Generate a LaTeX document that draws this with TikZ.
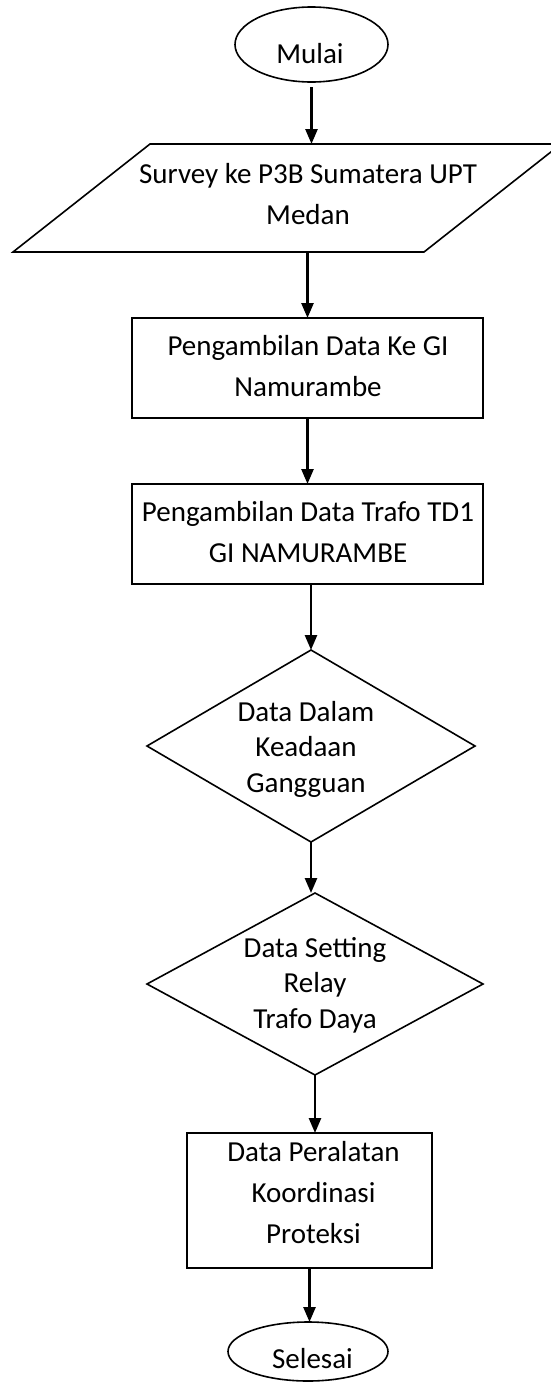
\documentclass[tikz,border=0pt]{standalone}
\usepackage{fontspec}
\setmainfont{Carlito}
\usetikzlibrary{shapes.geometric,arrows.meta}

\begin{document}
\begin{tikzpicture}[
  x=1pt, y=-1pt,
  shapeline/.style={draw=black, line width=1.6pt, inner sep=0pt, outer sep=0pt},
  terminal/.style={shapeline, ellipse},
  process/.style={shapeline, rectangle},
  decision/.style={shapeline, diamond},
  label/.style={font=\fontsize{29}{41}\selectfont, align=center, inner sep=0pt},
  tightlabel/.style={font=\fontsize{29}{35.5}\selectfont, align=center, inner sep=0pt},
  arr/.style={line width=2.6pt, -{Triangle[length=15pt, width=12pt]}}
]
% page frame
\path[use as bounding box] (0,0) rectangle (551,1382);
\clip (0,0) rectangle (551,1382);
\fill[white] (0,0) rectangle (551,1382);

% start / end terminals
\node[terminal, minimum width=153pt, minimum height=75pt] (start) at (311.5,44.5) {};
\node[label, anchor=base] (startT) at (310,63) {Mulai};

% input parallelogram
\coordinate (pBL) at (13,252);
\coordinate (pBR) at (424,252);
\coordinate (pTR) at (561,144);
\coordinate (pTL) at (150,144);
\draw[line width=1.6pt, line join=miter] (pBL) -- (pBR) -- (pTR) -- (pTL) -- cycle;
\node[label] (surveyT) at (308,194.4) {Survey ke P3B Sumatera UPT\\Medan};

% process boxes
\node[process, minimum width=351pt, minimum height=100pt] (box1) at (307.5,368) {};
\node[label] (box1T) at (308,366.4) {Pengambilan Data Ke GI\\Namurambe};

\node[process, minimum width=351pt, minimum height=100pt] (box2) at (307.5,534) {};
\node[label] (box2T) at (308,532.4) {Pengambilan Data Trafo TD1\\GI NAMURAMBE};

% decisions
\node[decision, minimum width=328pt, minimum height=192pt] (dia1) at (311,746) {};
\node[tightlabel] (dia1T) at (306,749.1) {Data Dalam\\Keadaan\\Gangguan};

\node[decision, minimum width=336pt, minimum height=182pt] (dia2) at (315,984) {};
\node[tightlabel] (dia2T) at (315,985.1) {Data Setting\\Relay\\Trafo Daya};

% final process box
\node[process, minimum width=245pt, minimum height=135pt] (box3) at (309.5,1200.5) {};
\node[label] (box3T) at (313.5,1192.9) {Data Peralatan\\Koordinasi\\Proteksi};

\node[terminal, minimum width=160pt, minimum height=59pt] (end) at (308,1351.5) {};
\node[label, anchor=base] (endT) at (312.5,1368) {Selesai};

% flow connectors
\draw[arr, shorten <=5pt] (start.south) -- (start.south |- pTL);
\draw[arr] (box1.north |- pBL) -- (box1.north);
\draw[arr] (box1.south) -- (box2.north);
\draw[arr] (box2.south -| dia1.north) -- (dia1.north);
\draw[arr] (dia1.south) -- (dia1.south |- dia2.north);
\draw[arr] (dia2.south) -- (dia2.south |- box3.north);
\draw[arr] (box3.south) -- (box3.south |- end.north);
\end{tikzpicture}
\end{document}
